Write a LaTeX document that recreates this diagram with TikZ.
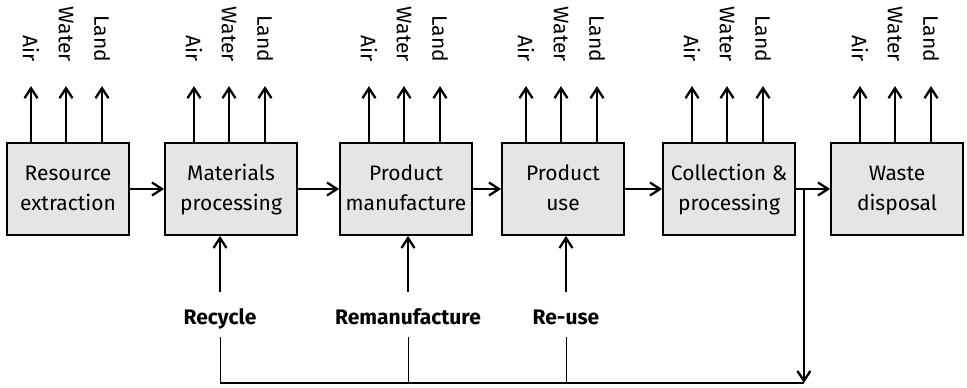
\documentclass[tikz,border=0pt]{standalone}
\usepackage{fontspec}
\setmainfont{Fira Sans}
\usetikzlibrary{shapes,arrows.meta}
\tikzstyle{line} = [draw, line width=2.3pt, -{Straight Barb[length=10pt,width=13pt]}]
\tikzstyle{stage} = [rectangle, draw, line width=1.8pt, fill=gray!20,
    minimum width=132pt, minimum height=92pt, align=center,
    font=\fontsize{21}{30}\selectfont]
\tikzstyle{emission} = [rotate=-90, anchor=east, inner sep=0pt,
    font=\fontsize{21}{25}\selectfont]
\tikzstyle{loop} = [inner sep=0pt, anchor=base, text height=15pt, text depth=5pt,
    font=\fontsize{21}{25}\selectfont\bfseries]
\tikzstyle{link} = [draw, line width=1pt]
\tikzstyle{base} = [draw, line width=2pt]

\begin{document}
\begin{tikzpicture}
[x=1pt, y=-1pt, node distance=166pt]
    \useasboundingbox (0,0) rectangle (967,388);
    % Place nodes
    \node [stage, minimum width=122pt] (extract) at (68,189) {Resource\strut\\extraction\strut};
    \node [stage, right of=extract, xshift=-3pt] (materials) {Materials\strut\\processing\strut};
    \node [stage, right of=materials, xshift=9pt] (manufacture) {Product\strut\\manufacture\strut};
    \node [stage, minimum width=122pt, right of=manufacture, xshift=-9pt] (use) {Product\strut\\use\strut};
    \node [stage, right of=use] (collect) {Collection \&\strut\\processing\strut};
    \node [stage, right of=collect, xshift=2pt] (disposal) {Waste\strut\\disposal\strut};

    \node [loop] (recycle) at (220,324) {Recycle};
    \node [loop] (reman) at (408,324) {Remanufacture};
    \node [loop] (reuse) at (566,324) {Re-use};

    \coordinate (split) at ([xshift=8pt]collect.east);
    \coordinate (return) at (split |- 0,383);

    % Draw edges
    \foreach \a/\b in {extract/materials, materials/manufacture,
        manufacture/use, use/collect, collect/disposal}
        \path [line] (\a) -- (\b);

    \foreach \s in {extract, materials, manufacture, use, collect, disposal}
        \foreach \dx/\e in {-37/Air, -2/Water, 34/Land} {
            \node [emission] (\s-\e) at ([xshift=\dx pt, yshift=80pt]\s.north) {\e};
            \path [line, shorten >=24pt] (\s-\e |- \s.north) -- (\s-\e.east);
        }

    \path [line, shorten <=17pt] (recycle) -- (recycle |- materials.south);
    \path [line, shorten <=17pt] (reman) -- (reman |- manufacture.south);
    \path [line, shorten <=17pt] (reuse) -- (reuse |- use.south);

    \path [link, shorten <=8pt] (recycle) -- (recycle |- return);
    \path [link, shorten <=8pt] (reman) -- (reman |- return);
    \path [link, shorten <=8pt] (reuse) -- (reuse |- return);
    \path [base] (recycle |- return) -- (return);
    \path [line] (split) -- (return);

\end{tikzpicture}
\end{document}
